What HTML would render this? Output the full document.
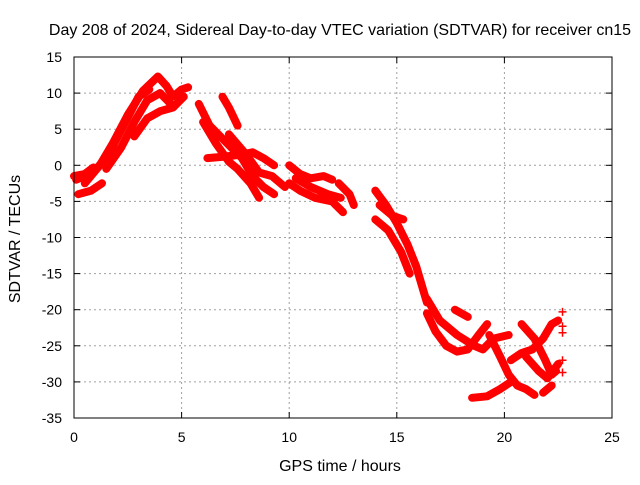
<!DOCTYPE html>
<html><head><meta charset="utf-8"><style>
body{margin:0;background:#fff}
svg text{font-family:"Liberation Sans",sans-serif;font-size:14px;fill:#000}
svg text.big{font-size:16px}
</style></head><body>
<svg id="chart" width="640" height="480">
<rect width="640" height="480" fill="#fff"/>
<g id="grid"></g>
<g id="series"></g>
<rect x="74" y="57" width="538" height="361" fill="none" stroke="#000"/>
<g id="ticks"></g>
<text class="big" x="340" y="35" text-anchor="middle">Day 208 of 2024, Sidereal Day-to-day VTEC variation (SDTVAR) for receiver cn15</text>
<text class="big" x="340" y="471" text-anchor="middle">GPS time / hours</text>
<text class="big" transform="translate(20,239) rotate(-90)" text-anchor="middle">SDTVAR / TECUs</text>
</svg>
<script>
const xTicks=[0,5,10,15,20,25];
const yTicks=[15,10,5,0,-5,-10,-15,-20,-25,-30,-35];
const track1=[[0.1,-2],[0.9,-1],[1.6,1.5],[2.3,5.5],[3.0,9.5],[3.5,10.5]];
const track2=[[0.5,-2.5],[1.2,0],[1.8,3],[2.5,7],[3.2,10.3],[3.9,12.3],[4.3,11],[4.6,9.5],[5.0,10.5],[5.3,10.8]];
const track3=[[1.5,-0.5],[2.2,2.5],[2.8,6],[3.4,9],[4.0,10],[4.5,8.5]];
const track4=[[2.8,4],[3.4,6.5],[4.0,7.5],[4.6,8],[5.1,9.5]];
const track5=[[0.2,-4],[0.8,-3.5],[1.3,-2.5]];
const track6=[[0,-1.5],[0.5,-1.2],[0.9,-0.3]];
const track7=[[5.8,8.5],[6.3,5.5],[6.8,4],[7.3,2.5],[7.8,1],[8.3,-1.5],[8.8,-3],[9.3,-4]];
const track8=[[6.0,6],[6.6,3],[7.2,0.5],[7.6,-0.5],[8.2,-2.5],[8.6,-4.5]];
const track9=[[6.9,9.5],[7.2,8],[7.6,5.5]];
const track10=[[6.2,1],[7.0,1.2],[7.8,1.5],[8.3,1.8],[8.8,1],[9.3,0]];
const track11=[[7.2,4.3],[8.0,1.5],[8.6,-1],[9.2,-1.5],[9.8,-3]];
const track12=[[10.0,0],[10.5,-1.2],[11.0,-1.8],[11.6,-1.5],[12.0,-2]];
const track13=[[10.0,-2.5],[10.5,-3.5],[11.2,-4.5],[12.0,-5],[12.5,-6.5]];
const track14=[[10.3,-1.8],[11,-3],[11.8,-4],[12.4,-4.5]];
const track15=[[12.3,-2.5],[12.8,-4],[13.0,-5.5]];
const track16=[[14.0,-3.5],[14.5,-5.5],[15.0,-8],[15.5,-11],[15.9,-14],[16.2,-17],[16.4,-19]];
const track17=[[14.0,-7.5],[14.6,-9],[15.2,-12],[15.6,-15]];
const track18=[[14.2,-5.5],[14.8,-7],[15.3,-7.5]];
const track19=[[16.4,-18.5],[17.0,-21.5],[17.8,-23.5],[18.6,-25],[19.0,-25.5],[19.5,-24],[20.2,-23.5]];
const track20=[[16.4,-20.5],[16.8,-23],[17.3,-25],[17.8,-25.8],[18.3,-25.5],[18.8,-23.5],[19.2,-22]];
const track21=[[17.7,-20],[18.3,-21]];
const track22=[[19.3,-23.5],[19.8,-26.5],[20.2,-29],[20.6,-30.5],[21,-31],[21.4,-31.8]];
const track23=[[18.5,-32.2],[19.2,-32],[19.8,-31],[20.3,-30]];
const track24=[[20.8,-22],[21.4,-24],[21.9,-27],[22.2,-29],[22.4,-28.5]];
const track25=[[20.3,-27],[20.8,-26],[21.3,-25.5],[21.8,-24],[22.2,-22],[22.5,-21.5]];
const track26=[[21.0,-26.5],[21.6,-28.5],[22.0,-29.5],[22.5,-27.5]];
const track27=[[21.8,-31.5],[22.2,-30.5]];
const endMarks=[[22.7,-20.3],[22.7,-22.3],[22.7,-23.2],[22.7,-27],[22.7,-28.7]];
const tracks=[track1,track2,track3,track4,track5,track6,track7,track8,track9,track10,track11,track12,track13,track14,track15,track16,track17,track18,track19,track20,track21,track22,track23,track24,track25,track26,track27];

const X0=74,X1=612,Y0=418,Y1=57;
const sx=v=>X0+(v-0)/(25-0)*(X1-X0);
const sy=v=>Y0-(v+35)/(15+35)*(Y0-Y1);
const NS="http://www.w3.org/2000/svg";
const grid=document.getElementById('grid'),ticks=document.getElementById('ticks'),ser=document.getElementById('series');
function mk(tag,attrs,parent){const e=document.createElementNS(NS,tag);for(const k in attrs)e.setAttribute(k,attrs[k]);parent.appendChild(e);return e;}
xTicks.forEach(t=>{
  const x=sx(t);
  if(t>0&&t<25){const g=mk('line',{x1:x,x2:x,y1:Y1,y2:Y0,stroke:'#a0a0a0','stroke-dasharray':'2,3'},grid);
  
  }
  mk('line',{x1:x,x2:x,y1:Y0,y2:Y0-6,stroke:'#000'},ticks);
  mk('line',{x1:x,x2:x,y1:Y1,y2:Y1+6,stroke:'#000'},ticks);
  const l=mk('text',{x:x,y:Y0+24,'text-anchor':'middle'},ticks);l.textContent=t;
  
  
});
yTicks.forEach(t=>{
  const y=sy(t);
  if(t>-35&&t<15){const g=mk('line',{x1:X0,x2:X1,y1:y,y2:y,stroke:'#a0a0a0','stroke-dasharray':'2,3'},grid);
  
  }
  mk('line',{x1:X0,x2:X0+6,y1:y,y2:y,stroke:'#000'},ticks);
  mk('line',{x1:X1,x2:X1-6,y1:y,y2:y,stroke:'#000'},ticks);
  const l=mk('text',{x:X0-12,y:y+5,'text-anchor':'end'},ticks);l.textContent=t;
  
  
});
function plus(x,y){
  const p=mk('path',{d:`M${x-4},${y}h8M${x},${y-4}v8`,stroke:'#f00','stroke-width':1.5,fill:'none'},ser);
  
  
}
tracks.forEach(tr=>{
  const p=mk('path',{d:'M'+tr.map(d=>sx(d[0]).toFixed(1)+' '+sy(d[1]).toFixed(1)).join(' L'),fill:'none',stroke:'#ff0000','stroke-width':8,'stroke-linejoin':'round','stroke-linecap':'round'},ser);
  
  
});
endMarks.forEach(d=>plus(sx(d[0]),sy(d[1])));
</script>
</body></html>
